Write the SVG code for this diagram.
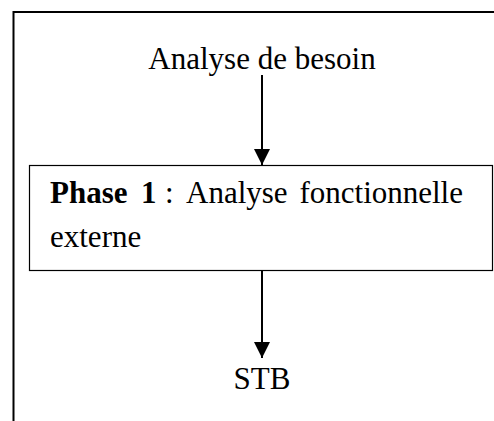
<svg xmlns="http://www.w3.org/2000/svg" width="494" height="421" viewBox="0 0 494 421">
<style>
.t{font-family:"Liberation Serif","Times New Roman",serif;font-size:31px;fill:#000}
.b{font-weight:bold}
.ln{stroke:#000;stroke-width:2;fill:none}
</style>
<defs>
<marker id="ah" markerUnits="userSpaceOnUse" markerWidth="16" markerHeight="16" viewBox="0 0 16 16" refX="16" refY="8" orient="auto">
<path d="M0,0 L16,8 L0,16 Z" fill="#000"/>
</marker>
</defs>
<rect width="494" height="421" fill="#fff"/>
<g id="frame">
<path class="ln" d="M13.5,421 V12 H494" stroke-width="2.5"/>
</g>
<g id="n1">
<text class="t" x="262" y="69" text-anchor="middle">Analyse de besoin</text>
</g>
<g id="n2">
<rect x="29.5" y="165.5" width="463" height="105" fill="#fff" stroke="#000" stroke-width="1.2"/>
<text class="t" y="203"><tspan x="50" class="b">Phase</tspan><tspan x="141" class="b">1</tspan><tspan x="165">:</tspan><tspan x="186">Analyse</tspan></text>
<text class="t" x="463" y="203" text-anchor="end">fonctionnelle</text>
<text class="t" x="50" y="247">externe</text>
</g>
<g id="n3">
<text class="t" x="262" y="389" text-anchor="middle">STB</text>
</g>
<g id="connectors">
<line class="ln" x1="262" y1="75" x2="262" y2="165" marker-end="url(#ah)"/>
<line class="ln" x1="262" y1="271" x2="262" y2="358" marker-end="url(#ah)"/>
</g>
</svg>
